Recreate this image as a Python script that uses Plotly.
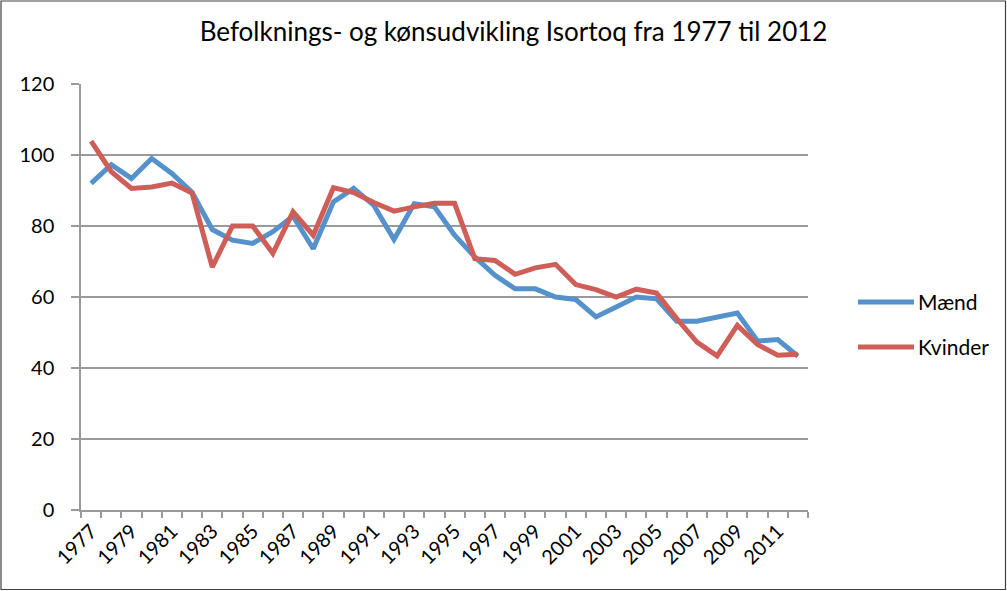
import plotly.graph_objects as go

# Population by sex, Isortoq 1977-2012
years = list(range(1977, 2013))
maend = [92, 97.3, 93.4, 99, 94.8, 89.5, 79, 76, 75.1, 78.4, 82.8, 73.6,
         86.8, 90.6, 85.8, 76.2, 86.3, 85.4, 77.4, 71.3, 66.1, 62.3, 62.3, 60,
         59.3, 54.4, 57.2, 60, 59.5, 53.2, 53.2, 54.2, 55.5, 47.6, 48, 43.3]
kvinder = [103.9, 95.3, 90.6, 91, 92.1, 89.3, 68.4, 80, 80, 72.3, 84, 77.4,
           90.8, 89.4, 86.6, 84.2, 85.4, 86.4, 86.4, 70.8, 70.3, 66.4, 68.2, 69.2,
           63.5, 62.1, 60, 62.2, 61.1, 53.9, 47.3, 43.4, 52, 46.6, 43.6, 43.9]
label_years = years[:-1:2]
series_names = ["Mænd", "Kvinder"]
colors = ["#5591CA", "#CF5E58"]

FONT = "Lato, 'Open Sans', sans-serif"
GRID = "#9a9a9a"

# plot area geometry in pixels
W, H = 1007, 591
L, R, T, B = 81, 199, 84, 81
pw, ph = W - L - R, H - T - B


def px_x(p):
    return (p - L) / pw


def px_y(p):
    return (H - B - p) / ph


fig = go.Figure()
for name, vals, col in zip(series_names, [maend, kvinder], colors):
    fig.add_trace(go.Scatter(
        x=years, y=vals, mode="lines", name=name,
        line=dict(color=col, width=5), showlegend=False,
    ))

fig.update_layout(
    width=W, height=H,
    margin=dict(l=L, r=R, t=T, b=B),
    paper_bgcolor="white", plot_bgcolor="white",
    font=dict(family=FONT, color="#000000", size=20),
    title=dict(
        text="Befolknings- og kønsudvikling Isortoq fra 1977 til 2012",
        x=0.51, xanchor="center", y=1 - 32 / H, yanchor="middle",
        font=dict(family=FONT, size=26, color="#000000"),
    ),
    xaxis=dict(
        range=[1976.5, 2012.5],
        tickmode="array", tickvals=label_years,
        ticktext=[str(y) for y in label_years],
        tickangle=-45, ticks="", showgrid=False, zeroline=False,
        showline=True, linecolor=GRID, linewidth=1.5,
        tickfont=dict(size=20),
        minor=dict(
            tickmode="array",
            tickvals=[y - 0.5 for y in years] + [years[-1] + 0.5],
            ticks="outside", ticklen=6, tickwidth=1.5, tickcolor=GRID,
            showgrid=False,
        ),
    ),
    yaxis=dict(
        range=[0, 120], tickmode="linear", tick0=0, dtick=20,
        showgrid=True, gridcolor=GRID, gridwidth=1.5,
        zeroline=False, showline=True, linecolor=GRID, linewidth=1.5,
        ticks="outside", ticklen=8, tickwidth=1.5, tickcolor=GRID,
        ticklabelstandoff=13,
        tickfont=dict(size=20),
    ),
)

# legend drawn at the right of the plot area
legend_rows = [302, 347]
for name, col, yp in zip(series_names, colors, legend_rows):
    fig.add_shape(type="line", xref="paper", yref="paper",
                  x0=px_x(858), x1=px_x(914), y0=px_y(yp), y1=px_y(yp),
                  line=dict(color=col, width=5))
    fig.add_annotation(xref="paper", yref="paper", x=px_x(916), y=px_y(yp - 1),
                       text=name, showarrow=False, xanchor="left", yanchor="middle",
                       font=dict(family=FONT, size=21, color="#000000"))

# outer frame around the whole chart
fig.add_shape(type="rect", xref="paper", yref="paper",
              x0=px_x(1), x1=px_x(1005.5), y0=px_y(589.5), y1=px_y(1),
              line=dict(color="#404040", width=1.2), layer="below")

fig.write_html("out.html")
